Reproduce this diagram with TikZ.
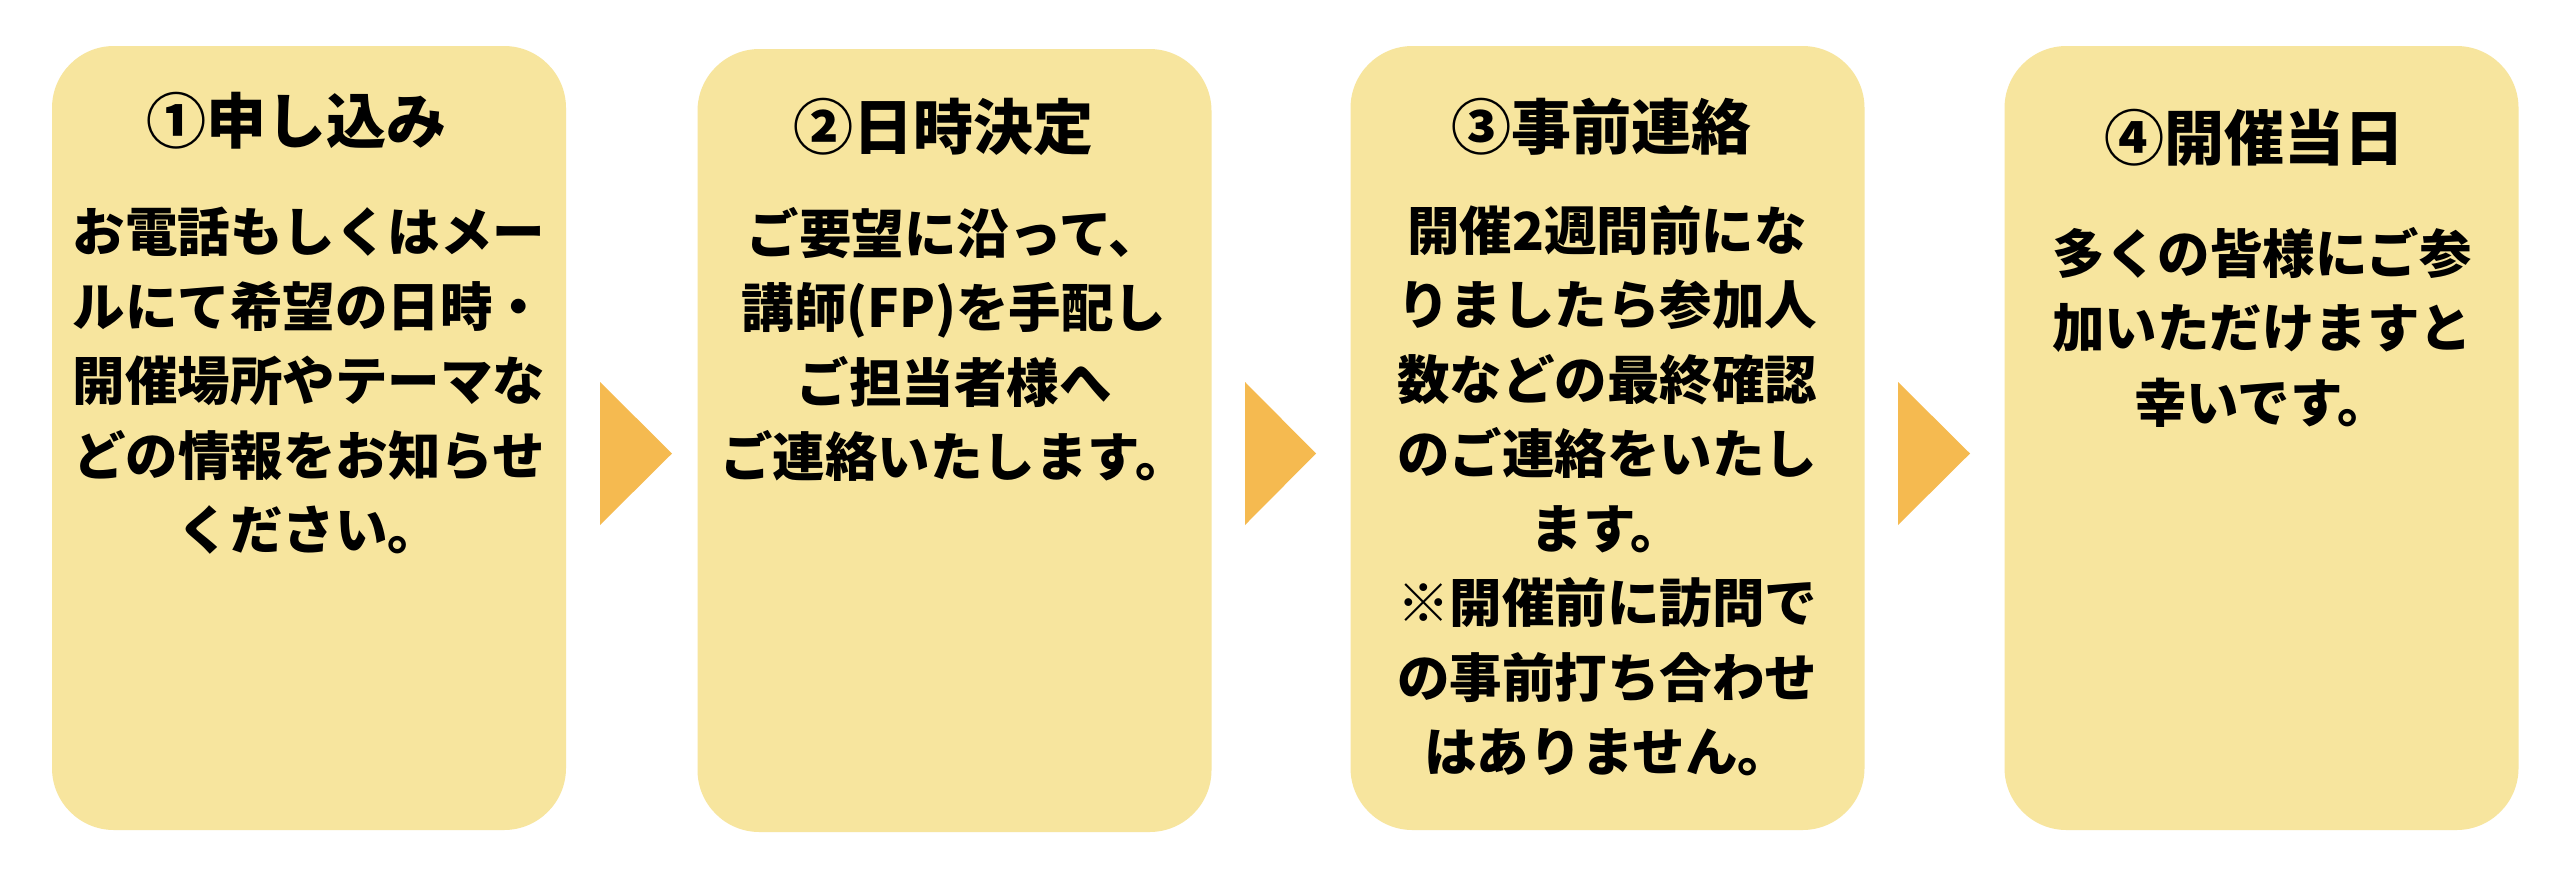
\documentclass[tikz,border=0pt]{standalone}
\usepackage{fontspec}
\newfontfamily\jp{Noto Sans CJK JP}
\newfontfamily\jpheavy{Noto Sans CJK JP Black}
\definecolor{boxfill}{HTML}{F7E59E}
\definecolor{arrowfill}{HTML}{F5BA50}
\begin{document}
\begin{tikzpicture}[x=1pt,y=-1pt,
  stepbox/.style={fill=boxfill, draw=none, rounded corners=62pt, inner sep=0pt, minimum width=514pt},
  titletext/.style={font=\jpheavy\fontsize{60}{70}\selectfont, anchor=north, inner sep=0pt},
  bodytext/.style={font=\jp\bfseries\fontsize{52.5}{74.5}\selectfont, anchor=north, inner sep=0pt, align=center},
  arrowtri/.style={fill=arrowfill, draw=none}]
\useasboundingbox (0,0) rectangle (2559,879);
\fill[white] (0,0) rectangle (2559,879);
% boxes
\node[stepbox, minimum height=784pt] (b1) at (309,438) {};
\node[stepbox, minimum height=783pt] (b2) at (954.5,440.5) {};
\node[stepbox, minimum height=784pt] (b3) at (1607.5,438) {};
\node[stepbox, minimum height=784pt] (b4) at (2261.5,438) {};
% arrows
\fill[arrowfill] (600,382) -- (672,453.5) -- (600,525) -- cycle;
\fill[arrowfill] (1245,382) -- (1316,453.5) -- (1245,525) -- cycle;
\fill[arrowfill] (1898,382) -- (1970,453.5) -- (1898,525) -- cycle;
% titles
\node[titletext] (t1) at (296,92) {①申し込み};
\node[titletext] (t2) at (943,98) {②日時決定};
\node[titletext] (t3) at (1601,98) {③事前連絡};
\node[titletext] (t4) at (2254,109) {④開催当日};
% bodies
\node[bodytext] (x1) at (309,207) {お電話もしくはメー\\ルにて希望の日時・\\開催場所やテーマな\\どの情報をお知らせ\\ください。};
\node[bodytext] (x2) at (954,207) {ご要望に沿って、\\講師(FP)を手配し\\ご担当者様へ\\ご連絡いたします。};
\node[bodytext] (x3) at (1607,205) {開催2週間前にな\\りましたら参加人\\数などの最終確認\\のご連絡をいたし\\ます。\\※開催前に訪問で\\の事前打ち合わせ\\はありません。};
\node[bodytext] (x4) at (2262,227) {多くの皆様にご参\\加いただけますと\\幸いです。};
\end{tikzpicture}
\end{document}
